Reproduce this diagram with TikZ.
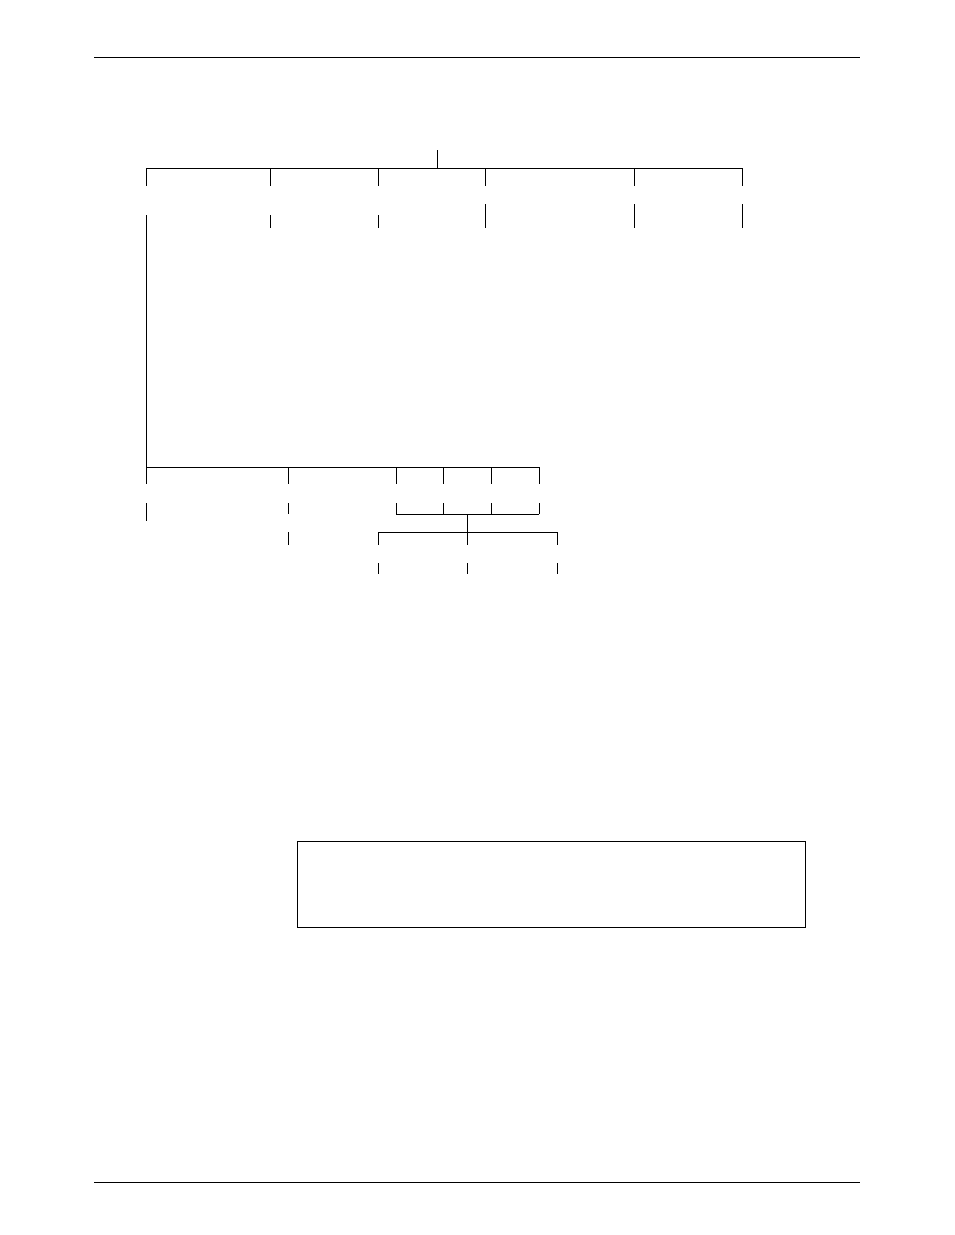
\documentclass[tikz,border=0pt]{standalone}
\begin{document}
\begin{tikzpicture}[x=1pt,y=-1pt,
  ln/.style={line width=1pt,black,line cap=butt},
  rule/.style={line width=0.9pt,black}]
\useasboundingbox[fill=white] (0,0) rectangle (954,1235);
% page rules
\draw[rule] (94,57) -- (860,57);
\draw[rule] (94,1182) -- (860,1182);
% top tree
\coordinate (root) at (437,150);
\draw[ln] (root) -- (437,168);
\draw[ln] (146,168) -- (742,168);
\foreach \x in {146,270,378,485,634,742}{
  \draw[ln] (\x,168) -- (\x,186);
}
\foreach \x in {270,378}{
  \draw[ln] (\x,215) -- (\x,228);
}
\foreach \x in {485,634,742}{
  \draw[ln] (\x,204) -- (\x,228);
}
% long trunk
\draw[ln] (146,215) -- (146,467);
% second tree
\draw[ln] (146,467) -- (539,467);
\foreach \x in {146,288,396,443,491,539}{
  \draw[ln] (\x,467) -- (\x,484);
}
\draw[ln] (146,503) -- (146,521);
\draw[ln] (288,503) -- (288,514);
\foreach \x in {396,443,491,539}{
  \draw[ln] (\x,503) -- (\x,514);
}
\draw[ln] (396,514) -- (539,514);
\draw[ln] (467,514) -- (467,532);
\draw[ln] (378,532) -- (557,532);
\foreach \x in {378,467,557}{
  \draw[ln] (\x,532) -- (\x,545);
  \draw[ln] (\x,563) -- (\x,574);
}
\draw[ln] (288,532) -- (288,545);
% box
\draw[ln] (297,841) rectangle (805,927);
\end{tikzpicture}
\end{document}
